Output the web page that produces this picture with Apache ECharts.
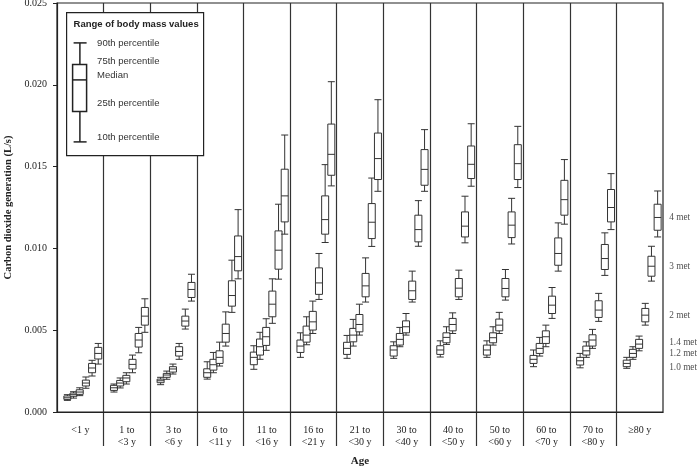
<!DOCTYPE html>
<html>
<head>
<meta charset="utf-8">
<script src="https://cdn.jsdelivr.net/npm/echarts@6/dist/echarts.min.js"></script>
<style>
html,body{margin:0;padding:0;background:#fff;}
#chart{width:697px;height:469px;}
</style>
</head>
<body>
<div id="chart"></div>
<script>
// Age groups (category axis)
const categories = ['<1 y','1 to\n<3 y','3 to\n<6 y','6 to\n<11 y','11 to\n<16 y','16 to\n<21 y','21 to\n<30 y','30 to\n<40 y','40 to\n<50 y','50 to\n<60 y','60 to\n<70 y','70 to\n<80 y','≥80 y'];
// Y tick settings
const yMin = 0, yMax = 0.025, yStep = 0.005;
// Activity levels
const metLabels = ['1.0 met','1.2 met','1.4 met','2 met','3 met','4 met'];
// Each entry: [10th, 25th, median, 75th, 90th percentile] (L/s)
const met10 = [
 [0.00071,0.00077,0.00087,0.00098,0.00106],
 [0.00122,0.00132,0.00148,0.00163,0.00171],
 [0.00167,0.00179,0.00191,0.00201,0.00212],
 [0.00201,0.00212,0.00240,0.00264,0.00307],
 [0.00261,0.00289,0.00334,0.00366,0.00405],
 [0.00334,0.00364,0.00403,0.00440,0.00484],
 [0.00328,0.00352,0.00389,0.00426,0.00468],
 [0.00328,0.00342,0.00379,0.00405,0.00429],
 [0.00336,0.00352,0.00379,0.00405,0.00435],
 [0.00334,0.00348,0.00379,0.00409,0.00435],
 [0.00277,0.00297,0.00322,0.00346,0.00379],
 [0.00270,0.00287,0.00313,0.00334,0.00358],
 [0.00267,0.00277,0.00297,0.00317,0.00334]
];
const met12 = [
 [0.00085,0.00096,0.00106,0.00116,0.00124],
 [0.00147,0.00159,0.00177,0.00193,0.00208],
 [0.00200,0.00212,0.00226,0.00236,0.00250],
 [0.00240,0.00256,0.00289,0.00322,0.00364],
 [0.00322,0.00348,0.00399,0.00446,0.00487],
 [0.00411,0.00427,0.00470,0.00525,0.00582],
 [0.00403,0.00429,0.00470,0.00511,0.00566],
 [0.00399,0.00409,0.00444,0.00480,0.00517],
 [0.00413,0.00423,0.00456,0.00484,0.00521],
 [0.00409,0.00423,0.00454,0.00484,0.00521],
 [0.00342,0.00358,0.00389,0.00419,0.00456],
 [0.00334,0.00348,0.00374,0.00403,0.00429],
 [0.00322,0.00334,0.00358,0.00383,0.00399]
];
const met14 = [
 [0.00100,0.00108,0.00122,0.00136,0.00148],
 [0.00171,0.00185,0.00208,0.00224,0.00240],
 [0.00232,0.00244,0.00263,0.00277,0.00293],
 [0.00281,0.00297,0.00334,0.00374,0.00427],
 [0.00377,0.00407,0.00460,0.00517,0.00570],
 [0.00480,0.00501,0.00551,0.00615,0.00678],
 [0.00470,0.00490,0.00535,0.00596,0.00659],
 [0.00470,0.00484,0.00521,0.00557,0.00602],
 [0.00480,0.00496,0.00535,0.00572,0.00606],
 [0.00480,0.00496,0.00531,0.00568,0.00609],
 [0.00399,0.00419,0.00460,0.00496,0.00531],
 [0.00389,0.00403,0.00440,0.00472,0.00505],
 [0.00374,0.00389,0.00415,0.00444,0.00464]
];
const met20 = [
 [0.00145,0.00159,0.00177,0.00195,0.00214],
 [0.00240,0.00263,0.00291,0.00322,0.00348],
 [0.00322,0.00342,0.00370,0.00399,0.00419],
 [0.00403,0.00427,0.00480,0.00537,0.00612],
 [0.00542,0.00582,0.00659,0.00739,0.00814],
 [0.00688,0.00719,0.00789,0.00881,0.00969],
 [0.00672,0.00704,0.00771,0.00847,0.00942],
 [0.00672,0.00688,0.00741,0.00800,0.00861],
 [0.00688,0.00704,0.00757,0.00816,0.00867],
 [0.00684,0.00704,0.00755,0.00816,0.00871],
 [0.00572,0.00602,0.00653,0.00708,0.00761],
 [0.00554,0.00578,0.00623,0.00680,0.00725],
 [0.00531,0.00551,0.00592,0.00633,0.00664]
];
const met30 = [
 [0.00220,0.00240,0.00269,0.00297,0.00316],
 [0.00362,0.00397,0.00440,0.00480,0.00517],
 [0.00507,0.00525,0.00556,0.00586,0.00629],
 [0.00609,0.00647,0.00712,0.00802,0.00928],
 [0.00812,0.00873,0.00989,0.01107,0.01270],
 [0.01036,0.01087,0.01176,0.01321,0.01512],
 [0.01012,0.01060,0.01160,0.01274,0.01430],
 [0.01013,0.01040,0.01115,0.01203,0.01292],
 [0.01034,0.01070,0.01136,0.01223,0.01319],
 [0.01027,0.01066,0.01142,0.01223,0.01306],
 [0.00861,0.00897,0.00969,0.01064,0.01156],
 [0.00835,0.00871,0.00938,0.01024,0.01095],
 [0.00800,0.00830,0.00891,0.00952,0.01013]
];
const met40 = [
 [0.00293,0.00324,0.00358,0.00395,0.00419],
 [0.00487,0.00531,0.00586,0.00639,0.00692],
 [0.00678,0.00700,0.00749,0.00792,0.00842],
 [0.00814,0.00863,0.00950,0.01076,0.01237],
 [0.01087,0.01162,0.01321,0.01484,0.01693],
 [0.01382,0.01447,0.01575,0.01760,0.02019],
 [0.01349,0.01421,0.01549,0.01705,0.01909],
 [0.01349,0.01386,0.01483,0.01604,0.01726],
 [0.01380,0.01427,0.01514,0.01626,0.01762],
 [0.01372,0.01421,0.01518,0.01634,0.01746],
 [0.01148,0.01203,0.01298,0.01416,0.01543],
 [0.01115,0.01162,0.01250,0.01360,0.01457],
 [0.01070,0.01111,0.01189,0.01270,0.01351]
];
// Legend texts
const legendTitle = 'Range of body mass values';
const legendItems = ['90th percentile','75th percentile','Median','25th percentile','10th percentile'];

const metSeries = [met10, met12, met14, met20, met30, met40];
const labelDy = [4.5, 0, -1.5, 0, 0, 0];

const SERIF = '"Liberation Serif","Times New Roman",serif';
const SANS = '"Liberation Sans",Arial,sans-serif';
const INK = '#222';

const chart = echarts.init(document.getElementById('chart'), null, {renderer:'canvas'});

const series = metSeries.map((arr, i) => ({
  type: 'boxplot',
  name: metLabels[i],
  xAxisIndex: 1, yAxisIndex: 1,
  data: arr,
  silent: true,
  itemStyle: {color: '#fff', borderColor: '#333', borderWidth: 1}
}));

// Right side activity labels, anchored at the last group's median
series.push({
  type: 'scatter',
  xAxisIndex: 1, yAxisIndex: 1,
  silent: true,
  symbolSize: 1,
  itemStyle: {color: 'transparent'},
  data: metSeries.map((arr, i) => ({
    value: [categories[categories.length - 1], arr[arr.length - 1][2]],
    label: {offset: [26.5, labelDy[i]]},
    name: metLabels[i]
  })),
  label: {
    show: true, position: 'right', distance: 0,
    formatter: p => p.name,
    fontFamily: SERIF, fontSize: 9.3, color: INK
  }
});

const Z = 100;
const legendChildren = [
  {type: 'rect', shape: {x: 0, y: 0, width: 137, height: 143}, style: {fill: '#fff', stroke: INK, lineWidth: 1.2}},
  {type: 'text', style: {x: 69.5, y: 12, text: legendTitle, fill: INK, font: 'bold 9.5px ' + SANS, textAlign: 'center', textVerticalAlign: 'middle'}},
  {type: 'line', shape: {x1: 13.3, y1: 30.3, x2: 13.3, y2: 52}, style: {stroke: INK, lineWidth: 1.5}},
  {type: 'line', shape: {x1: 7, y1: 30.3, x2: 20, y2: 30.3}, style: {stroke: INK, lineWidth: 1.5}},
  {type: 'rect', shape: {x: 6, y: 52, width: 14, height: 47}, style: {fill: '#fff', stroke: INK, lineWidth: 1.5}},
  {type: 'line', shape: {x1: 6, y1: 67.3, x2: 20, y2: 67.3}, style: {stroke: INK, lineWidth: 1.5}},
  {type: 'line', shape: {x1: 13.3, y1: 99, x2: 13.3, y2: 129.3}, style: {stroke: INK, lineWidth: 1.5}},
  {type: 'line', shape: {x1: 7, y1: 129.3, x2: 20, y2: 129.3}, style: {stroke: INK, lineWidth: 1.5}},
  {type: 'text', style: {x: 30.5, y: 30.7, text: legendItems[0], fill: '#333', font: '9.5px ' + SANS, textVerticalAlign: 'middle'}},
  {type: 'text', style: {x: 30.5, y: 48.7, text: legendItems[1], fill: '#333', font: '9.5px ' + SANS, textVerticalAlign: 'middle'}},
  {type: 'text', style: {x: 30.5, y: 63, text: legendItems[2], fill: '#333', font: '9.5px ' + SANS, textVerticalAlign: 'middle'}},
  {type: 'text', style: {x: 30.5, y: 90.7, text: legendItems[3], fill: '#333', font: '9.5px ' + SANS, textVerticalAlign: 'middle'}},
  {type: 'text', style: {x: 30.5, y: 124.7, text: legendItems[4], fill: '#333', font: '9.5px ' + SANS, textVerticalAlign: 'middle'}}
].map(c => Object.assign({z: Z}, c));

const option = {
  animation: false,
  backgroundColor: '#fff',
  grid: [
    {left: 57, right: 34, top: 3, bottom: 57, outerBoundsMode: 'none', containLabel: false, show: true, borderColor: INK, borderWidth: 1.2, backgroundColor: 'transparent'},
    {left: 59.5, right: 31.5, top: 3, bottom: 57, outerBoundsMode: 'none', containLabel: false},
    {left: 57, right: 34, top: 412, height: 34, outerBoundsMode: 'none', containLabel: false}
  ],
  xAxis: [
    {
      type: 'category', gridIndex: 0, data: categories,
      axisLine: {show: true, lineStyle: {color: INK, width: 1.2}},
      axisTick: {show: false},
      splitLine: {show: true, interval: 0, showMinLine: false, showMaxLine: false, lineStyle: {color: '#333', width: 1.2}},
      axisLabel: {interval: 0, margin: 12, fontFamily: SERIF, fontSize: 10, color: INK, lineHeight: 12.5},
      name: 'Age', nameLocation: 'middle', nameGap: 44,
      nameTextStyle: {fontFamily: SERIF, fontSize: 11, fontWeight: 'bold', color: INK}
    },
    {type: 'category', gridIndex: 1, data: categories, show: false},
    {
      type: 'category', gridIndex: 2, data: categories,
      axisLine: {show: false}, axisTick: {show: false}, axisLabel: {show: false},
      splitLine: {show: true, interval: 0, showMinLine: false, showMaxLine: false, lineStyle: {color: '#333', width: 1.2}}
    }
  ],
  yAxis: [
    {
      type: 'value', gridIndex: 0, min: yMin, max: yMax, interval: yStep,
      axisLine: {show: true, lineStyle: {color: INK, width: 1.2}},
      axisTick: {show: true, length: 4, lineStyle: {color: INK}},
      splitLine: {show: false},
      axisLabel: {margin: 10, fontFamily: SERIF, fontSize: 10, color: INK, formatter: v => v.toFixed(3)},
      name: 'Carbon dioxide generation (L/s)', nameLocation: 'middle', nameGap: 41,
      nameTextStyle: {fontFamily: SERIF, fontSize: 10.5, fontWeight: 'bold', color: INK}
    },
    {type: 'value', gridIndex: 1, min: yMin, max: yMax, show: false},
    {type: 'value', gridIndex: 2, show: false}
  ],
  series: series,
  graphic: [{
    type: 'group', left: 66, top: 12, z: Z,
    children: legendChildren
  }]
};
chart.setOption(option);
</script>
</body>
</html>
